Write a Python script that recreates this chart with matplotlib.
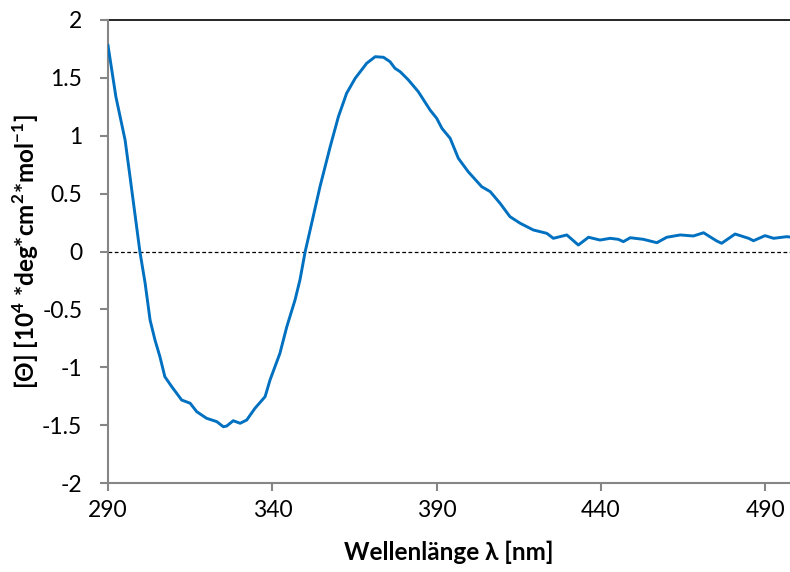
import numpy as np
import matplotlib
matplotlib.use("Agg")
import matplotlib.pyplot as plt

plt.rcParams['font.family'] = ['Lato', 'DejaVu Sans']
plt.rcParams['axes.unicode_minus'] = False
plt.rcParams['mathtext.fontset'] = 'custom'
plt.rcParams['mathtext.rm'] = 'Lato'
plt.rcParams['mathtext.bf'] = 'Lato:bold'

# CD spectrum
wavelength = [290.0, 292.4, 295.2, 296.7, 299.7, 301.3, 302.8, 304.3, 305.8, 307.3,
              309.4, 310.9, 312.4, 315.0, 317.0, 320.0, 323.1, 325.1, 326.1, 328.1,
              330.2, 332.2, 334.7, 337.8, 339.3, 342.3, 344.4, 346.9, 348.4, 350.0,
              351.5, 354.5, 357.6, 360.1, 362.6, 365.2, 368.7, 371.3, 373.8, 375.8,
              377.3, 378.9, 381.4, 384.4, 388.0, 390.0, 391.6, 394.1, 396.6, 399.6,
              403.7, 406.3, 409.3, 412.3, 415.4, 419.4, 423.5, 425.5, 429.6, 433.1,
              436.2, 439.7, 442.8, 445.3, 446.8, 448.9, 452.9, 457.0, 460.0, 464.1,
              468.1, 471.2, 475.2, 476.7, 480.8, 484.9, 486.4, 489.9, 492.5, 496.5,
              497.5]
theta = [1.78, 1.337, 0.963, 0.646, 0.0, -0.275, -0.592, -0.765, -0.909, -1.082,
         -1.168, -1.225, -1.283, -1.311, -1.384, -1.441, -1.470, -1.514, -1.508, -1.462,
         -1.484, -1.456, -1.355, -1.254, -1.110, -0.880, -0.650, -0.419, -0.246, 0.0,
         0.186, 0.560, 0.905, 1.165, 1.367, 1.496, 1.626, 1.683, 1.678, 1.640,
         1.583, 1.553, 1.482, 1.381, 1.222, 1.151, 1.064, 0.978, 0.805, 0.689,
         0.560, 0.517, 0.416, 0.301, 0.244, 0.186, 0.157, 0.114, 0.143, 0.056,
         0.123, 0.099, 0.114, 0.105, 0.085, 0.119, 0.105, 0.076, 0.123, 0.143,
         0.134, 0.162, 0.091, 0.071, 0.151, 0.114, 0.093, 0.137, 0.114, 0.128,
         0.125]

xticks = [290, 340, 390, 440, 490]
yticks = [-2, -1.5, -1, -0.5, 0, 0.5, 1, 1.5, 2]
ytick_labels = ['-2', '-1.5', '-1', '-0.5', '0', '0.5', '1', '1.5', '2']

fig = plt.figure(figsize=(7.9, 5.72), dpi=100)
ax = fig.add_axes([108/790, 1 - 483/572, 682/790, 463/572])

ax.axhline(0, color='black', lw=0.9, ls=(0, (3, 2)), zorder=1)
ax.axhline(2, color='black', lw=1.2, zorder=1, clip_on=False)
ax.plot(wavelength, theta, color='#0070C0', lw=2.1, zorder=3)

ax.set_xlim(290, 497.5)
ax.set_ylim(-2, 2)
ax.set_xticks(xticks)
ax.set_yticks(yticks)
ax.set_yticklabels(ytick_labels)

for s in ['top', 'right']:
    ax.spines[s].set_visible(False)
for s in ['left', 'bottom']:
    ax.spines[s].set_color('#868686')
    ax.spines[s].set_linewidth(1.5)
ax.tick_params(direction='out', length=5.5, width=1.5, color='#868686',
               labelsize=16.5, labelcolor='black')
ax.tick_params(axis='y', pad=13)
ax.tick_params(axis='x', pad=7)

ax.set_xlabel('Wellenlänge λ [nm]', fontsize=17.5, fontweight='bold', labelpad=14)
ax.set_ylabel(r'[Θ] [10$^{\mathbf{4}}$ *deg*cm$^{\mathbf{2}}$*mol$^{\mathbf{-1}}$]',
              fontsize=17.5, fontweight='bold', labelpad=1)

fig.savefig('out.png', dpi=100)
